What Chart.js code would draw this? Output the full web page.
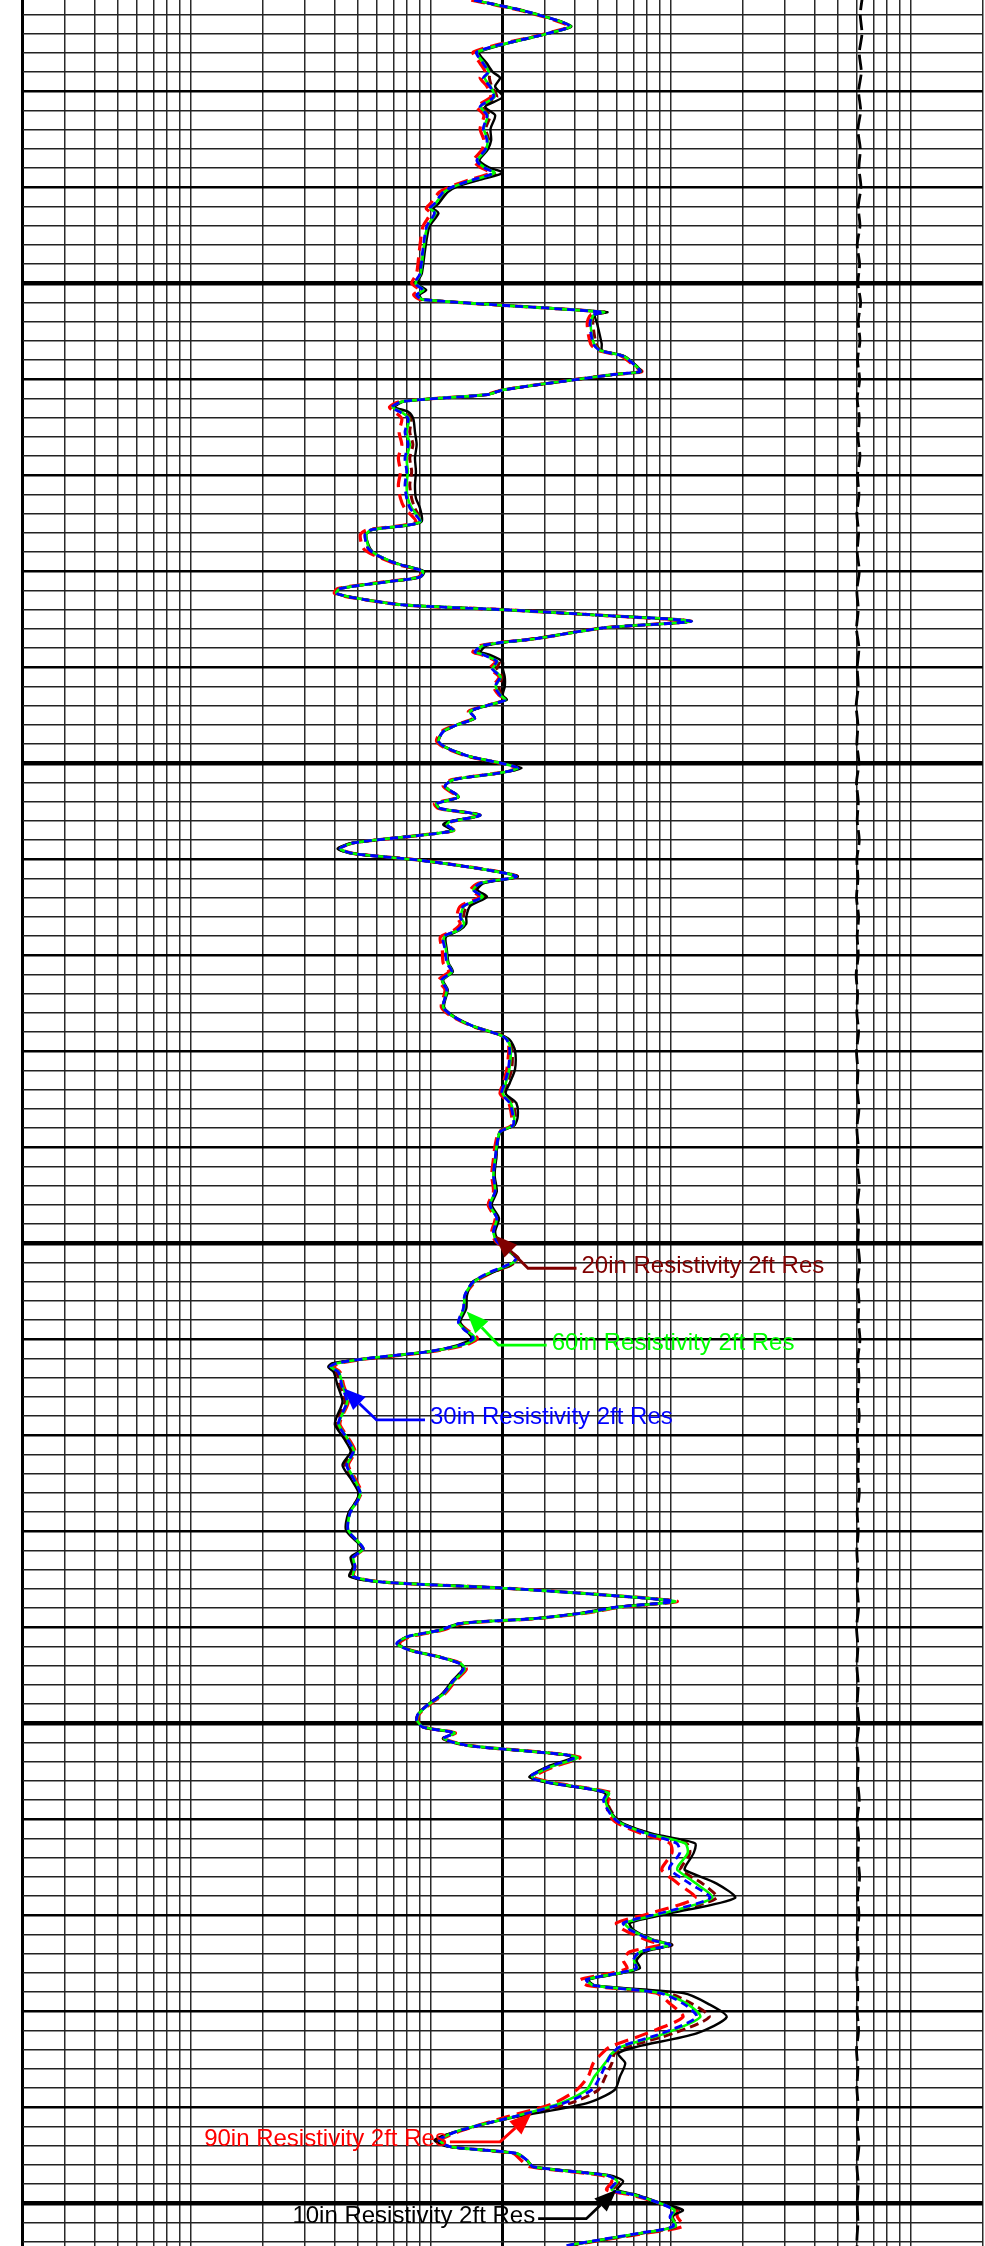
<!DOCTYPE html>
<html><head><meta charset="utf-8">
<script src="https://cdn.jsdelivr.net/npm/chart.js@4.4.1/dist/chart.umd.min.js"></script>
<style>html,body{margin:0;padding:0;background:#fff}canvas{display:block}</style>
</head><body>
<canvas id="c" width="985" height="2246"></canvas>
<script>
// Depth (ft), shared by the five resistivity curves
const depth = [
5020.5,5021.7,5023.2,5024.0,5025.9,5027.1,5028.0,5028.6,5029.5,5030.6,
5031.6,5032.5,5033.9,5035.1,5036.1,5037.2,5037.9,5038.5,5039.2,5039.9,
5040.5,5041.7,5042.2,5042.7,5044.1,5046.5,5049.0,5050.0,5050.7,5051.2,
5051.7,5053.0,5053.3,5054.2,5056.3,5057.0,5057.6,5058.7,5059.2,5059.5,
5061.1,5061.6,5062.3,5062.9,5063.4,5064.1,5065.5,5066.8,5068.2,5069.6,
5071.0,5072.4,5073.4,5074.8,5075.2,5075.7,5076.2,5077.6,5078.3,5079.2,
5080.0,5080.6,5081.1,5081.8,5082.3,5082.8,5083.5,5084.0,5084.6,5085.2,
5085.9,5087.0,5087.7,5088.4,5088.7,5089.4,5090.1,5091.0,5092.0,5092.9,
5093.4,5093.9,5094.6,5095.3,5096.0,5096.7,5097.7,5098.4,5099.3,5100.0,
5100.5,5101.0,5101.7,5102.4,5103.5,5104.2,5104.7,5105.4,5106.1,5106.4,
5107.0,5107.5,5108.3,5108.9,5109.4,5110.1,5111.1,5111.8,5112.5,5113.2,
5113.9,5114.9,5116.0,5116.7,5117.4,5118.1,5119.4,5120.8,5121.7,5122.6,
5123.6,5125.4,5126.4,5127.4,5128.3,5128.8,5129.9,5131.9,5133.3,5134.4,
5135.4,5136.8,5137.7,5138.4,5139.8,5141.2,5142.9,5144.6,5146.0,5147.4,
5148.8,5149.8,5150.9,5151.6,5152.3,5153.0,5154.0,5155.4,5156.8,5158.2,
5158.9,5159.9,5160.6,5161.3,5162.0,5162.5,5162.9,5163.4,5164.8,5166.5,
5168.2,5168.9,5170.3,5171.7,5173.1,5174.5,5175.9,5176.7,5178.1,5179.9,
5181.8,5182.7,5183.7,5184.7,5185.3,5185.9,5186.6,5187.3,5187.9,5188.5,
5189.1,5189.6,5190.3,5191.0,5191.7,5192.4,5193.1,5193.8,5194.4,5195.5,
5196.9,5197.9,5199.0,5199.7,5200.4,5201.0,5201.6,5202.3,5202.8,5203.3,
5203.6,5204.5,5205.6,5206.2,5206.9,5207.3,5208.0,5209.4,5210.4,5211.5,
5212.5,5213.5,5214.9,5215.3,5216.7,5218.2,5219.8,5220.8,5221.5,5222.6,
5223.1,5223.8,5224.7,5225.5,5226.0,5226.7,5227.3,5228.1,5229.2,5230.6,
5232.3,5233.7,5234.4,5235.4,5236.8,5238.2,5239.6,5241.0,5242.4,5243.4,
5244.1,5244.8,5245.5,5246.2,5247.1,5247.7,5248.6,5249.1,5250.0,5250.7,
5251.4,5252.4,5253.1,5253.8,5254.4];

// 30in Resistivity 2ft Res (ohm.m)
const res30 = [
15.2,25.2,38.1,30.5,15.6,16.6,17.4,16.6,17.7,18.3,
16.1,17.2,16.6,17.2,16.9,15.6,16.6,18.3,15.1,12.5,
11.3,10.4,9.95,10.4,9.64,9.3,9.04,8.62,9.3,8.76,
9.3,52.5,47.7,46.2,47.7,50.9,63.6,72.3,74.6,57.8,
20.1,17.2,7.7,6.89,7.46,8.08,7.83,8.08,7.83,7.96,
7.83,7.96,8.21,9.04,7.96,5.6,5.33,5.5,5.96,7.23,
9.3,9.04,6.58,4.2,4.06,4.93,7.7,20.1,52.5,122.5,
52.5,27.7,16.6,15.3,16.6,18.9,18.0,19.5,18.6,19.5,
20.4,17.7,14.6,15.3,12.9,11.3,10.8,11.7,14.6,19.8,
23.2,19.5,12.5,11.5,13.1,10.6,10.95,16.1,12.05,11.7,
12.5,9.04,4.77,4.2,4.77,9.04,17.2,22.8,16.1,15.1,
16.4,13.7,13.3,13.7,12.9,11.3,11.5,11.7,12.25,11.1,
11.7,11.3,12.5,15.1,19.5,20.8,21.4,21.1,20.4,19.8,
21.4,22.1,22.1,19.5,18.9,18.6,18.3,18.6,17.7,18.9,
18.3,18.9,21.4,22.8,20.8,17.7,15.1,13.9,13.7,13.06,
13.7,15.1,13.3,9.64,5.42,4.06,3.81,4.13,4.27,4.48,
4.2,4.13,4.48,4.77,4.48,4.77,5.09,5.0,4.62,4.54,
5.25,4.77,4.85,4.77,6.35,19.5,50.9,102.7,59.6,43.3,
26.8,13.3,10.9,7.96,7.23,8.21,10.9,13.3,13.7,12.5,
11.3,9.95,8.9,8.76,9.3,12.5,11.3,14.15,22.8,36.9,
40.0,31.4,26.0,31.4,47.7,54.2,52.5,56.0,61.6,79.6,
106.1,109.4,99.5,99.5,120.5,146,90.4,63.6,67.7,84.5,
99.5,74.6,70.0,72.3,61.6,44.6,47.7,90.4,113.1,128.6,
92,61.6,57,54.2,50.9,46.9,35.7,22.1,13.3,10.9,
12.05,22.8,25.2,26.8,54.2,59.6,56.0,70.0,90.4,102.7,
99.5,102.7,74.6,50.9,36.9];

// 10in Resistivity 2ft Res
const res10 = [
15.2,25.2,38.6,30.8,16.0,17.2,18.2,19.5,18.6,20.0,
16.9,18.6,17.8,17.9,17.3,16.0,17.4,20.0,16.2,13.0,
11.8,10.8,10.3,10.8,9.9,9.5,9.2,8.8,9.6,9.0,
9.3,54.5,48.5,49.5,51.7,52.0,64.5,73.0,75.5,58.5,
20.1,17.2,7.8,7.1,8.1,8.48,8.62,8.76,8.62,8.7,
8.62,8.7,9.04,9.2,8.1,5.7,5.4,5.6,6.0,7.3,
9.4,9.1,6.6,4.2,4.06,4.93,7.7,20.1,52.5,123,
52.5,27.7,17.2,16.2,17.7,20.0,20.0,20.4,20.4,20.0,
20.8,17.9,14.7,15.3,12.9,11.3,10.8,11.7,14.6,19.8,
24.0,19.8,12.5,11.5,13.1,10.6,10.95,16.1,11.8,11.3,
12.3,9.04,4.7,4.1,4.7,9.04,17.2,23.1,16.6,15.7,
17.2,14.6,14.1,14.1,13.2,11.6,11.7,11.9,12.4,11.3,
11.8,11.4,12.6,15.1,19.5,21.4,22.5,22.5,21.4,20.6,
22.8,23.1,22.4,19.6,19.0,18.8,18.5,18.9,18.0,19.3,
18.6,19.3,21.4,22.8,21.3,18.3,15.0,14.2,14.1,13.3,
13.9,14.8,13.0,9.8,5.5,3.9,3.75,3.95,4.1,4.3,
4.05,4.0,4.35,4.65,4.3,4.65,5.0,4.95,4.55,4.45,
5.2,4.65,4.75,4.6,6.3,19.5,50.9,101,58.5,42.5,
26.5,13.2,10.9,7.96,7.3,8.3,11.0,13.3,13.6,12.4,
11.2,9.9,8.9,8.76,9.3,12.5,11.3,14.15,22.8,36.9,
39.0,30.8,25.8,31.0,47.0,53.5,53.5,57.0,63.0,84.0,
126.5,125,115.6,114.8,155.8,185.6,99.5,67.7,70.0,86,
101.4,78.4,72.3,74.6,63.6,45.5,48.5,113,143.1,171.5,
128.6,72.3,60.5,64.8,61.6,58.5,44.6,22.8,13.3,10.4,
11.8,22.8,25.2,26.8,56,63.5,60,72,92,112.7,
101,104,76,52,38];

// 90in Resistivity 2ft Res
const res90 = [
14.8,24.8,37.6,30.0,15.1,16.1,16.9,16.1,17.2,17.8,
15.6,16.7,16.1,16.7,16.4,15.1,16.1,17.8,14.6,12.2,
10.9,10.0,9.6,10.0,9.3,9.0,8.75,8.35,9.0,8.5,
9.1,53.0,46.5,45.0,46.5,50.0,62.5,71.5,76.0,57.5,
20.0,17.0,7.5,6.75,7.1,7.6,7.4,7.6,7.35,7.5,
7.35,7.5,7.8,8.7,7.7,5.4,5.1,5.25,5.8,7.1,
9.2,8.9,6.4,4.1,3.98,4.85,7.6,20.0,52.0,121,
52.5,27.5,16.3,15.0,16.3,18.7,17.7,19.3,18.3,19.3,
20.6,17.5,14.4,15.1,12.7,11.1,10.6,11.5,14.4,19.6,
23.0,19.3,12.3,11.3,12.9,10.4,10.8,15.9,12.2,11.8,
12.5,9.0,4.77,4.2,4.8,9.1,17.4,23.0,15.8,14.7,
16.0,13.3,12.9,13.3,12.5,11.0,11.2,11.3,11.9,10.8,
11.5,11.1,12.3,15.0,19.6,21.0,21.2,20.8,20.1,19.5,
21.2,21.8,21.8,19.3,18.6,18.3,18.0,18.3,17.4,18.6,
18.0,18.7,21.6,23.1,21.4,18.2,15.4,14.0,13.8,13.2,
14.0,15.7,14.0,10.0,5.6,4.15,3.95,4.2,4.35,4.55,
4.25,4.2,4.55,4.85,4.55,4.85,5.15,5.0,4.6,4.5,
5.25,4.8,4.85,4.8,6.4,19.8,51.5,106.8,62.5,45.0,
27.8,13.8,11.2,8.2,7.4,8.3,11.0,13.6,14.1,12.8,
11.5,10.1,9.0,8.85,9.4,12.7,11.5,14.4,23.2,37.8,
42.0,33.0,27.0,32.8,49.5,57.0,55.0,55.0,60.0,76.0,
99.5,101.4,93,92,107.5,126.5,81.9,59.6,63.6,80,
90.4,67.7,63.6,66.0,57.5,42.2,45.0,87,99.5,112.7,
79.6,56,51.7,47.7,45.4,40.6,32.5,20.8,13.6,11.1,
12.2,22.1,23.8,26.0,52,57,54.2,68,90.4,106,
106.8,112.7,80,53,38];

// 20in Resistivity 2ft Res
const res20 = [
15.2,25.2,38.1,30.5,15.7,16.8,17.7,17.6,18.0,18.9,
16.4,17.7,17.0,17.5,17.0,15.8,16.9,18.9,15.5,12.7,
11.5,10.6,10.1,10.6,9.75,9.4,9.1,8.7,9.4,8.85,
9.3,53.0,47.7,47.5,49.0,51.2,63.8,72.5,74.8,57.8,
20.1,17.2,7.7,7.0,7.8,8.3,8.2,8.45,8.2,8.35,
8.2,8.35,8.6,9.1,8.0,5.6,5.35,5.5,5.96,7.23,
9.3,9.04,6.58,4.2,4.06,4.93,7.7,20.1,52.5,122.5,
52.5,27.7,16.9,15.7,17.1,19.4,18.9,19.9,19.3,19.7,
20.4,17.7,14.6,15.3,12.9,11.3,10.8,11.7,14.6,19.8,
23.5,19.5,12.5,11.5,13.1,10.6,10.95,16.1,11.9,11.5,
12.4,9.04,4.75,4.15,4.75,9.04,17.2,23.0,16.3,15.4,
16.9,14.2,13.7,13.9,13.0,11.4,11.6,11.8,12.3,11.2,
11.7,11.3,12.5,15.1,19.5,21.1,21.9,21.8,20.9,20.2,
22.0,22.6,22.3,19.5,18.9,18.7,18.4,18.7,17.8,19.1,
18.4,19.0,21.6,23.3,21.6,18.1,15.2,14.0,13.9,13.2,
13.8,15.3,13.5,9.8,5.45,4.0,3.8,4.05,4.2,4.4,
4.1,4.05,4.4,4.7,4.4,4.7,5.05,4.95,4.58,4.5,
5.2,4.72,4.8,4.7,6.35,19.5,51,104,60.5,44.0,
27.0,13.4,11.0,8.0,7.3,8.25,10.9,13.4,13.8,12.6,
11.3,9.95,8.9,8.76,9.3,12.5,11.3,14.15,22.8,36.9,
40.5,31.8,26.2,31.6,48.0,55.0,54.0,57.5,62.5,82.0,
116.6,120.5,111.5,110,136,155.8,95,66,69,85.5,
101.4,76.0,71.0,73.0,62.5,45.0,48.0,97,122.5,145,
102.7,66.7,58.5,57,53.6,50.0,38,22.3,13.3,10.7,
12.05,22.8,25.2,26.8,55,61,58,71,91,108,
102,106,77,52,37.5];

// 60in Resistivity 2ft Res
const res60 = [
15.2,25.2,38.3,30.6,15.7,16.7,17.5,16.8,17.8,18.5,
16.2,17.3,16.7,17.3,17.0,15.7,16.7,18.5,15.2,12.6,
11.4,10.5,10.0,10.5,9.7,9.35,9.1,8.68,9.35,8.8,
9.3,52.8,47.9,46.5,48.0,51.0,63.8,72.5,74.8,58.0,
20.1,17.2,7.7,6.95,7.55,8.15,7.95,8.2,7.95,8.05,
7.95,8.05,8.35,9.1,8.0,5.65,5.4,5.55,6.0,7.25,
9.3,9.04,6.58,4.2,4.06,4.93,7.7,20.1,52.5,122.5,
52.5,27.7,16.7,15.4,16.7,19.0,18.2,19.6,18.7,19.6,
20.5,17.7,14.6,15.3,12.9,11.3,10.8,11.7,14.6,19.8,
23.2,19.5,12.5,11.5,13.1,10.6,10.95,16.1,12.05,11.7,
12.5,9.04,4.77,4.2,4.77,9.04,17.2,22.8,16.1,15.1,
16.5,13.8,13.4,13.8,13.0,11.4,11.6,11.8,12.3,11.2,
11.7,11.3,12.5,15.1,19.5,20.9,21.6,21.3,20.6,20.0,
21.6,22.3,22.2,19.5,18.9,18.6,18.3,18.6,17.7,18.9,
18.3,18.9,21.5,23.0,21.1,17.9,15.2,13.9,13.8,13.1,
13.8,15.4,13.6,9.75,5.45,4.1,3.85,4.15,4.3,4.5,
4.22,4.15,4.5,4.8,4.5,4.8,5.1,5.0,4.62,4.55,
5.25,4.77,4.85,4.77,6.35,19.6,51.2,104.5,60.8,44.2,
27.0,13.4,11.0,8.0,7.25,8.25,10.95,13.4,13.9,12.6,
11.4,10.0,8.95,8.8,9.35,12.6,11.4,14.3,23.0,37.3,
41.0,32.0,26.5,32.0,48.5,55.5,53.5,56.5,62.0,80.5,
115,118,107.5,107,128,149,93,64.7,68.4,85,
99.5,75.0,70.5,72.8,62.0,44.8,47.7,92,117,133,
95,62.5,57,53.4,48.2,44.6,34.6,22.1,13.3,10.9,
12.05,22.8,25.2,26.8,54.5,60,57,70.5,90.4,104,
101,105,76,51.5,37];

// Dashed black curve near 600 on the same grid (every 2 ft)
const dashDepth = [
5020,5022,5024,5026,5028,5030,5032,5034,5036,5038,5040,5042,5044,5046,5048,5050,5052,5054,5056,5058,
5060,5062,5064,5066,5068,5070,5072,5074,5076,5078,5080,5082,5084,5086,5088,5090,5092,5094,5096,5098,
5100,5102,5104,5106,5108,5110,5112,5114,5116,5118,5120,5122,5124,5126,5128,5130,5132,5134,5136,5138,
5140,5142,5144,5146,5148,5150,5152,5154,5156,5158,5160,5162,5164,5166,5168,5170,5172,5174,5176,5178,
5180,5182,5184,5186,5188,5190,5192,5194,5196,5198,5200,5202,5204,5206,5208,5210,5212,5214,5216,5218,
5220,5222,5224,5226,5228,5230,5232,5234,5236,5238,5240,5242,5244,5246,5248,5250,5252,5254,5256];
const dashValues = [
632,618,628,612,624,608,620,604,618,610,622,606,616,600,614,604,620,606,616,602,
614,600,612,604,616,602,610,598,608,600,612,598,606,596,610,600,606,594,604,598,
610,596,606,600,612,598,604,596,608,600,606,594,602,598,608,596,604,600,610,598,
606,602,612,600,608,604,614,602,610,606,616,604,610,602,612,600,608,604,612,600,
606,598,604,600,608,596,604,598,606,600,610,598,606,602,612,600,608,604,614,602,
610,600,606,598,604,600,608,596,604,598,606,600,610,598,606,600,604,598,604];

// Grid (tick) values
const xGrid = [0.2,0.3,0.4,0.5,0.6,0.7,0.8,0.9,1,2,3,4,5,6,7,8,9,10,20,30,40,50,60,70,80,90,
100,200,300,400,500,600,700,800,900,1000,2000];
const xMin = 0.2, xMax = 2000;
const yMin = 5020.49, yMax = 5254.45;
const yGridStart = 5022, yGridEnd = 5254, yGridStep = 2;

// Curve labels: tip/elbow in (value, depth); end = value where the horizontal leader stops
const labels = [
  {text:'20in Resistivity 2ft Res', color:'#800000', tip:[18.6,5149.2], elbow:[25.5,5152.6], end:40.6, side:'right'},
  {text:'60in Resistivity 2ft Res', color:'#00ff00', tip:[14.15,5157.1], elbow:[19.2,5160.6], end:30.5, side:'right'},
  {text:'30in Resistivity 2ft Res', color:'#0000ff', tip:[4.34,5165.1], elbow:[5.96,5168.4], end:9.49, side:'right'},
  {text:'90in Resistivity 2ft Res', color:'#ff0000', tip:[26.4,5240.6], elbow:[19.5,5243.6], end:12.05, side:'left'},
  {text:'10in Resistivity 2ft Res', color:'#000000', tip:[59.6,5248.6], elbow:[44.6,5251.6], end:28.1, side:'left'}
];

function pts(vals, d) { return vals.map((v, i) => ({x: v, y: d[i]})); }

const yTicks = [];
for (let v = yGridStart; v <= yGridEnd; v += yGridStep) yTicks.push(v);

const bgPlugin = {
  id: 'bg',
  beforeDraw(chart) {
    const c = chart.ctx; c.save(); c.fillStyle = '#fff';
    c.fillRect(0, 0, chart.width, chart.height); c.restore();
  }
};

const labelPlugin = {
  id: 'curveLabels',
  afterDatasetsDraw(chart) {
    const ctx = chart.ctx, xs = chart.scales.x, ys = chart.scales.y;
    ctx.save();
    labels.forEach(l => {
      const tx = xs.getPixelForValue(l.tip[0]), ty = ys.getPixelForValue(l.tip[1]);
      const ex = xs.getPixelForValue(l.elbow[0]), ey = ys.getPixelForValue(l.elbow[1]);
      const nx = xs.getPixelForValue(l.end), ny = ey;
      const ang = Math.atan2(ty - ey, tx - ex);
      const len = 22, hw = 9;
      const bx = tx - len * Math.cos(ang), by = ty - len * Math.sin(ang);
      ctx.strokeStyle = l.color; ctx.fillStyle = l.color; ctx.lineWidth = 2.8;
      ctx.beginPath(); ctx.moveTo(nx, ny); ctx.lineTo(ex, ey); ctx.lineTo(bx, by); ctx.stroke();
      ctx.beginPath(); ctx.moveTo(tx, ty);
      ctx.lineTo(bx + hw * Math.sin(ang), by - hw * Math.cos(ang));
      ctx.lineTo(bx - hw * Math.sin(ang), by + hw * Math.cos(ang));
      ctx.closePath(); ctx.fill();
      ctx.font = '24px "Liberation Sans", Arial, sans-serif';
      ctx.textBaseline = 'alphabetic';
      ctx.textAlign = l.side === 'right' ? 'left' : 'right';
      ctx.fillText(l.text, l.side === 'right' ? nx + 5 : nx - 3, ny + 4.5);
    });
    ctx.restore();
  }
};

const common = {pointRadius: 0, pointHoverRadius: 0, showLine: true, fill: false, tension: 0.25};

new Chart(document.getElementById('c'), {
  type: 'scatter',
  data: {
    datasets: [
      Object.assign({label: '30in Resistivity 2ft Res', data: pts(res30, depth), borderColor: '#0000ff', borderWidth: 2.8, borderDash: [8, 5]}, common),
      Object.assign({label: '60in Resistivity 2ft Res', data: pts(res60, depth), borderColor: '#00ff00', borderWidth: 2.6}, common),
      Object.assign({label: '10in Resistivity 2ft Res', data: pts(res10, depth), borderColor: '#000000', borderWidth: 2.4}, common),
      Object.assign({label: '20in Resistivity 2ft Res', data: pts(res20, depth), borderColor: '#800000', borderWidth: 3, borderDash: [9, 5]}, common),
      Object.assign({label: '90in Resistivity 2ft Res', data: pts(res90, depth), borderColor: '#ff0000', borderWidth: 3.2, borderDash: [14, 7]}, common),
      Object.assign({label: 'dashed', data: pts(dashValues, dashDepth), borderColor: '#000000', borderWidth: 2.8, borderDash: [15, 5], tension: 0.4}, common)
    ]
  },
  options: {
    responsive: false,
    devicePixelRatio: 1,
    animation: false,
    layout: {padding: {left: 22.7, right: 2.3, top: 0, bottom: 0}},
    plugins: {legend: {display: false}, tooltip: {enabled: false}},
    events: [],
    scales: {
      x: {
        type: 'logarithmic', position: 'bottom', min: xMin, max: xMax,
        afterBuildTicks: s => { s.ticks = xGrid.map(v => ({value: v})); },
        ticks: {display: false},
        border: {display: false},
        grid: {
          drawTicks: false,
          lineWidth: ctx => {
            const v = ctx.tick ? ctx.tick.value : 0;
            if (v === 20 || v === 0.2) return 3;
            return 1.5;
          },
          color: ctx => {
            const v = ctx.tick ? ctx.tick.value : 0;
            return (v === 20 || v === 0.2) ? '#000000' : '#2a2a2a';
          }
        }
      },
      y: {
        type: 'linear', reverse: true, min: yMin, max: yMax,
        afterBuildTicks: s => { s.ticks = yTicks.map(v => ({value: v})); },
        ticks: {display: false},
        border: {display: false},
        grid: {
          drawTicks: false,
          lineWidth: ctx => {
            const v = ctx.tick ? ctx.tick.value : 1;
            if (v % 50 === 0) return 4.5;
            if (v % 10 === 0) return 2.5;
            return 1.5;
          },
          color: ctx => {
            const v = ctx.tick ? ctx.tick.value : 1;
            return (v % 10 === 0) ? '#000000' : '#222222';
          }
        }
      }
    }
  },
  plugins: [bgPlugin, labelPlugin]
});
</script>
</body></html>
